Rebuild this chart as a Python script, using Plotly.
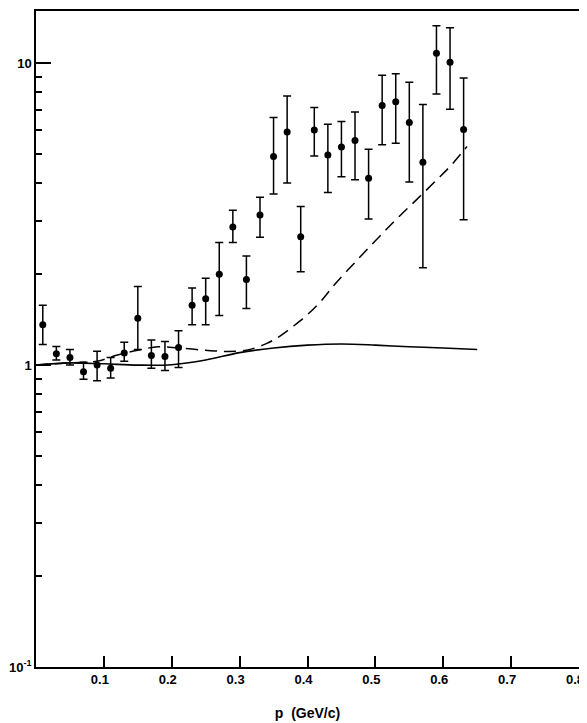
import plotly.graph_objects as go

# Data points (p in GeV/c, ratio)
p = [0.01, 0.03, 0.05, 0.07, 0.09, 0.11, 0.13, 0.15, 0.17, 0.19, 0.21,
     0.23, 0.25, 0.27, 0.29, 0.31, 0.33, 0.35, 0.37, 0.39,
     0.41, 0.43, 0.45, 0.47, 0.49, 0.51, 0.53, 0.55, 0.57, 0.59, 0.61, 0.63]
val = [1.36, 1.09, 1.06, 0.95, 1.00, 0.977, 1.096, 1.43, 1.077, 1.068, 1.144,
       1.58, 1.66, 2.00, 2.87, 1.92, 3.14, 4.91, 5.92, 2.66,
       6.01, 4.97, 5.28, 5.55, 4.16, 7.24, 7.45, 6.36, 4.70, 10.8, 10.08, 6.03]
upper = [1.58, 1.153, 1.127, 1.023, 1.112, 1.06, 1.19, 1.82, 1.21, 1.198, 1.30,
         1.80, 1.94, 2.55, 3.26, 2.30, 3.60, 6.61, 7.79, 3.35,
         7.13, 6.28, 6.41, 6.90, 5.19, 9.12, 9.22, 8.65, 7.30, 13.3, 13.1, 8.94]
lower = [1.17, 1.039, 1.00, 0.897, 0.887, 0.906, 1.03, 1.127, 0.977, 0.96, 0.982,
         1.36, 1.36, 1.46, 2.55, 1.54, 2.65, 3.69, 4.01, 2.04,
         4.93, 3.73, 4.21, 4.11, 3.05, 5.37, 5.43, 4.04, 2.10, 7.91, 7.04, 3.03]

# Solid theory curve
solid_p = [0.0, 0.05, 0.10, 0.15, 0.20, 0.25, 0.30, 0.35, 0.40, 0.45, 0.50, 0.55, 0.60, 0.65]
solid_v = [1.0, 1.017, 1.01, 1.0, 1.003, 1.04, 1.10, 1.14, 1.165, 1.175, 1.165, 1.15, 1.14, 1.127]

# Dashed theory curve
dash_p = [0.0, 0.05, 0.09, 0.12, 0.15, 0.18, 0.21, 0.25, 0.28, 0.31, 0.34, 0.36, 0.38, 0.40,
          0.42, 0.44, 0.47, 0.50, 0.53, 0.56, 0.59, 0.61, 0.635]
dash_v = [1.0, 1.017, 1.03, 1.08, 1.12, 1.15, 1.14, 1.12, 1.11, 1.12, 1.18, 1.25, 1.35, 1.47,
          1.63, 1.85, 2.19, 2.58, 3.03, 3.52, 4.1, 4.55, 5.3]

x_ticks = [0.1, 0.2, 0.3, 0.4, 0.5, 0.6, 0.7, 0.8]
x_ticktext = ["0.1", "0.2", "0.3", "0.4", "0.5", "0.6", "0.7", "0.8"]
y_ticks = [0.1, 1, 10]
y_ticktext = ["10<sup>-1</sup>", "1", "10"]
y_minor = [0.2, 0.3, 0.4, 0.5, 0.6, 0.7, 0.8, 0.9, 2, 3, 4, 5, 6, 7, 8, 9]

err_plus = [u - v for u, v in zip(upper, val)]
err_minus = [v - l for v, l in zip(val, lower)]

fig = go.Figure()
fig.add_trace(go.Scatter(x=solid_p, y=solid_v, mode="lines", line=dict(color="black", width=1.6, shape="spline"),
                         showlegend=False, hoverinfo="skip"))
fig.add_trace(go.Scatter(x=dash_p, y=dash_v, mode="lines",
                         line=dict(color="black", width=1.5, shape="spline", dash="12px,7px"),
                         showlegend=False, hoverinfo="skip"))
fig.add_trace(go.Scatter(x=p, y=val, mode="markers",
                         marker=dict(color="black", size=7),
                         error_y=dict(type="data", symmetric=False, array=err_plus, arrayminus=err_minus,
                                      color="black", thickness=1.5, width=4),
                         showlegend=False))

fam = "Liberation Sans, Arial, sans-serif"

fig.update_layout(
    width=587, height=723,
    margin=dict(l=25, r=16, t=1, b=64),
    paper_bgcolor="white", plot_bgcolor="white",
    font=dict(family=fam, size=13, color="black"),
    xaxis=dict(range=[0, 0.8], tickvals=x_ticks, ticktext=x_ticktext,
               ticks="inside", ticklen=11, tickwidth=1.5, tickcolor="black",
               ticklabelshift=-4, ticklabeloverflow="allow",
               showline=True, linecolor="black", linewidth=1.5, mirror=True,
               showgrid=False, zeroline=False,
               tickfont=dict(family=fam, size=13, color="black", weight="bold"),
               title=dict(text="p  (GeV/c)", standoff=22,
                          font=dict(family=fam, size=14, color="black", weight="bold"))),
    yaxis=dict(type="log", range=[-1, 1.173], tickvals=y_ticks, ticktext=y_ticktext,
               ticks="inside", ticklen=15, tickwidth=1.5, tickcolor="black",
               minor=dict(tickvals=y_minor, ticks="inside", ticklen=6, tickwidth=1.5, tickcolor="black", showgrid=False),
               showline=True, linecolor="black", linewidth=1.5, mirror=True,
               showgrid=False, zeroline=False,
               tickfont=dict(family=fam, size=13, color="black", weight="bold")),
)

fig.write_html("out.html")
